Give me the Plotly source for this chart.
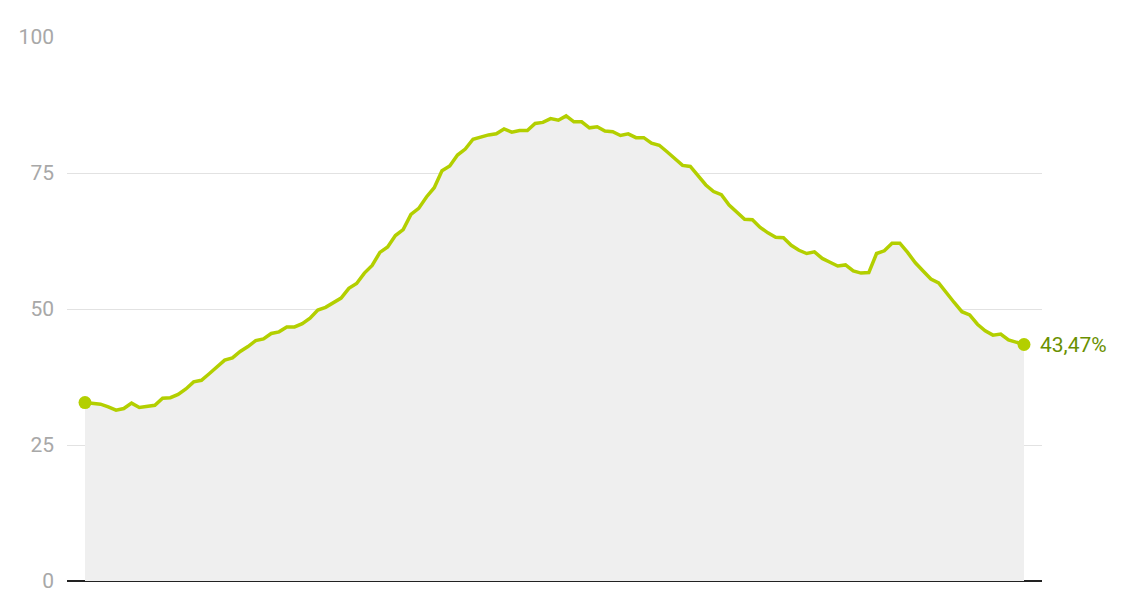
import plotly.graph_objects as go

# weekly share values
share = [
    32.8, 32.7, 32.5, 32.0, 31.4, 31.7, 32.7, 31.9, 32.1, 32.3,
    33.6, 33.7, 34.3, 35.3, 36.6, 36.9, 38.1, 39.4, 40.6, 41.0,
    42.2, 43.1, 44.2, 44.5, 45.5, 45.8, 46.7, 46.7, 47.3, 48.3,
    49.8, 50.3, 51.1, 52.0, 53.8, 54.7, 56.6, 58.0, 60.4, 61.4,
    63.5, 64.6, 67.4, 68.5, 70.6, 72.3, 75.4, 76.3, 78.3, 79.4,
    81.2, 81.6, 82.0, 82.2, 83.1, 82.5, 82.8, 82.8, 84.1, 84.3,
    85.0, 84.7, 85.5, 84.4, 84.4, 83.3, 83.5, 82.7, 82.6, 81.9,
    82.2, 81.5, 81.5, 80.5, 80.1, 78.9, 77.7, 76.4, 76.2, 74.4,
    72.8, 71.6, 71.0, 69.1, 67.7, 66.5, 66.4, 65.0, 64.0, 63.2,
    63.1, 61.7, 60.8, 60.2, 60.5, 59.3, 58.6, 57.9, 58.1, 57.0,
    56.6, 56.7, 60.2, 60.7, 62.1, 62.1, 60.4, 58.5, 57.0, 55.5,
    54.8, 52.9, 51.2, 49.5, 48.9, 47.2, 46.0, 45.2, 45.4, 44.3,
    43.9, 43.47,
]
weeks = list(range(len(share)))
y_ticks = [0, 25, 50, 75, 100]
last_label = "43,47%"

line_color = "#b3cf00"

fig = go.Figure()
fig.add_trace(go.Scatter(
    x=weeks, y=share, mode="lines",
    line=dict(color=line_color, width=3.5),
    fill="tozeroy", fillcolor="#efefef",
    hoverinfo="skip",
))
# dots on first and last point
fig.add_trace(go.Scatter(
    x=[weeks[0], weeks[-1]], y=[share[0], share[-1]], mode="markers",
    marker=dict(color=line_color, size=13),
    hoverinfo="skip",
))

fig.add_annotation(
    x=weeks[-1], y=share[-1], text=last_label, showarrow=False,
    xanchor="left", yanchor="middle", xshift=14,
    font=dict(size=21, color="#6a9000", family="Roboto"),
)

# the page body adds 8px, so margins are shifted by that
fig.update_layout(
    width=1128, height=591,
    margin=dict(l=59, r=94, t=29, b=18, autoexpand=False),
    paper_bgcolor="white", plot_bgcolor="white",
    showlegend=False,
    font=dict(family="Roboto", size=21, color="#a8a8a8"),
    xaxis=dict(
        range=[-2.32, len(share) - 1 + 2.32],
        showgrid=False, zeroline=False, showticklabels=False,
        automargin=False,
    ),
    yaxis=dict(
        range=[0, 100], tickvals=y_ticks,
        showgrid=True, gridcolor="#e2e2e2", gridwidth=1,
        zeroline=True, zerolinecolor="#222222", zerolinewidth=2,
        ticklabelstandoff=12, automargin=False,
    ),
)

fig.write_html("out.html")
